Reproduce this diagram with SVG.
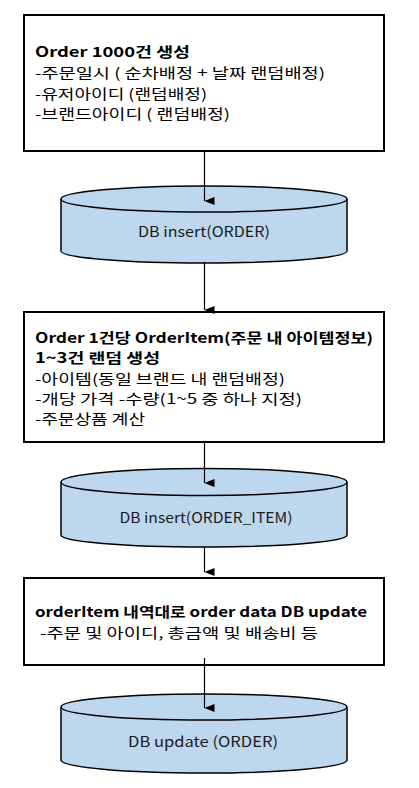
<svg xmlns="http://www.w3.org/2000/svg" width="419" height="788" viewBox="0 0 419 788">
<style>
.box{fill:#ffffff;stroke:#000000;stroke-width:2}
.cyl{fill:#bdd7ee;stroke:#000000;stroke-width:1.5}
.t{font-family:"Malgun Gothic","Noto Sans CJK KR","Noto Sans",sans-serif;font-size:14px;fill:#000000}
.b{font-weight:bold}
.c{font-family:"Malgun Gothic","Noto Sans CJK KR","Noto Sans",sans-serif;font-size:14.5px;fill:#1a1a1a;text-anchor:middle}
.ln{stroke:#000000;stroke-width:1.2;fill:none}
</style>
<defs>
<marker id="ah" markerUnits="userSpaceOnUse" markerWidth="8" markerHeight="10" refX="3.5" refY="9" orient="auto-start-reverse" viewBox="0 0 7 9">
<path d="M0,0 L7,0 L3.5,9 Z" fill="#000000"/>
</marker>
</defs>
<rect x="0" y="0" width="419" height="788" fill="#ffffff"/>
<g id="n1">
<rect class="box" x="24" y="15" width="360" height="136"/>
<text class="t b" x="35" y="57" textLength="155" lengthAdjust="spacingAndGlyphs">Order 1000건 생성</text>
<text class="t" x="35" y="78" textLength="290" lengthAdjust="spacingAndGlyphs">-주문일시 ( 순차배정 + 날짜 랜덤배정)</text>
<text class="t" x="35" y="99" textLength="172" lengthAdjust="spacingAndGlyphs">-유저아이디 (랜덤배정)</text>
<text class="t" x="35" y="119" textLength="195" lengthAdjust="spacingAndGlyphs">-브랜드아이디 ( 랜덤배정)</text>
</g>
<g id="n2">
<path class="cyl" d="M61,199 A143,13 0 0 1 347,199 L347,251 A143,12 0 0 1 61,251 Z"/>
<path class="cyl" d="M61,199 A143,13 0 0 0 347,199" fill="none"/>
<text class="c" x="204" y="237" textLength="132" lengthAdjust="spacingAndGlyphs">DB insert(ORDER)</text>
</g>
<g id="n3">
<rect class="box" x="24" y="312" width="360" height="130"/>
<text class="t b" x="35" y="343" textLength="338" lengthAdjust="spacingAndGlyphs">Order 1건당 OrderItem(주문 내 아이템정보)</text>
<text class="t b" x="35" y="363" textLength="125" lengthAdjust="spacingAndGlyphs">1~3건 랜덤 생성</text>
<text class="t" x="35" y="384" textLength="250" lengthAdjust="spacingAndGlyphs">-아이템(동일 브랜드 내 랜덤배정)</text>
<text class="t" x="35" y="404" textLength="267" lengthAdjust="spacingAndGlyphs">-개당 가격 -수량(1~5 중 하나 지정)</text>
<text class="t" x="35" y="424" textLength="110" lengthAdjust="spacingAndGlyphs">-주문상품 계산</text>
</g>
<g id="n4">
<path class="cyl" d="M61,482 A143,13.5 0 0 1 347,482 L347,535 A143,12 0 0 1 61,535 Z"/>
<path class="cyl" d="M61,482 A143,13.5 0 0 0 347,482" fill="none"/>
<text class="c" x="206" y="523" textLength="173" lengthAdjust="spacingAndGlyphs">DB insert(ORDER_ITEM)</text>
</g>
<g id="n5">
<rect class="box" x="24" y="578" width="360" height="87"/>
<text class="t b" x="35" y="617" textLength="332" lengthAdjust="spacingAndGlyphs">orderItem 내역대로 order data DB update</text>
<text class="t" x="40" y="638" textLength="278" lengthAdjust="spacingAndGlyphs">-주문 및 아이디, 총금액 및 배송비 등</text>
</g>
<g id="n6">
<path class="cyl" d="M61,707 A143,13 0 0 1 347,707 L347,760 A143,13 0 0 1 61,760 Z"/>
<path class="cyl" d="M61,707 A143,13 0 0 0 347,707" fill="none"/>
<text class="c" x="203" y="747" textLength="150" lengthAdjust="spacingAndGlyphs">DB update (ORDER)</text>
</g>
<g id="connectors">
<line class="ln" x1="204.5" y1="152" x2="204.5" y2="201" marker-end="url(#ah)"/>
<line class="ln" x1="204.5" y1="262" x2="204.5" y2="310" marker-end="url(#ah)"/>
<line class="ln" x1="204.5" y1="443" x2="204.5" y2="483" marker-end="url(#ah)"/>
<line class="ln" x1="204.5" y1="547" x2="204.5" y2="572" marker-end="url(#ah)"/>
<line class="ln" x1="204.5" y1="658" x2="204.5" y2="708" marker-end="url(#ah)"/>
</g>
</svg>
